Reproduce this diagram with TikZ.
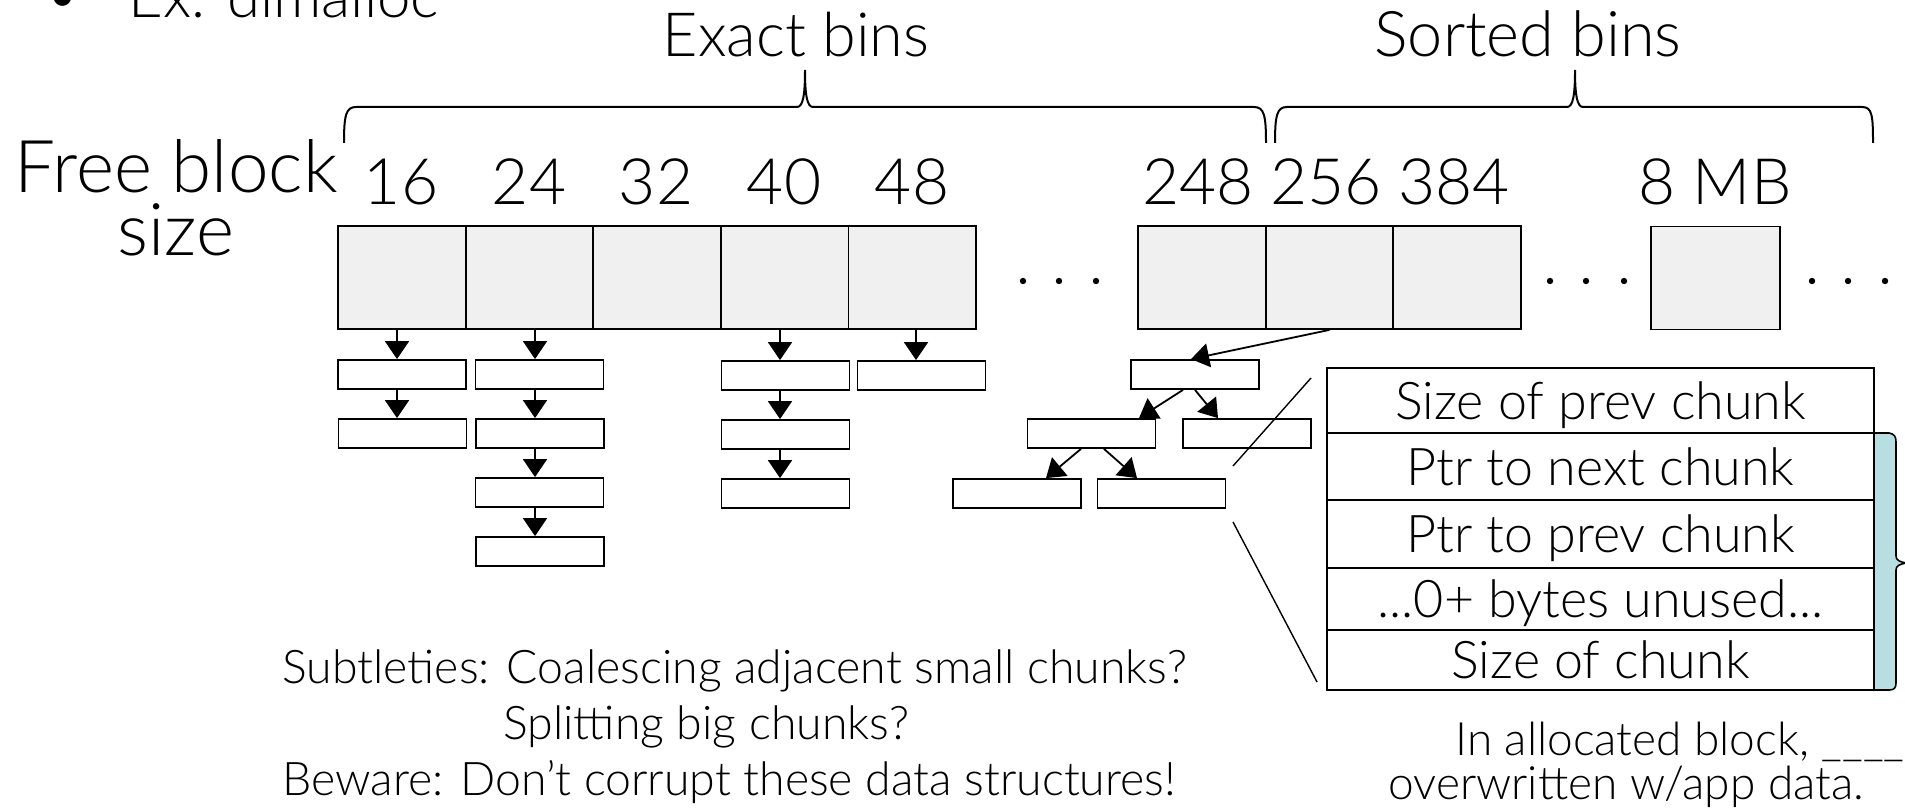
\documentclass[tikz,border=0pt]{standalone}
\usepackage{fontspec}
\setmainfont{Lato Light}
\usetikzlibrary{arrows.meta,calc}
\definecolor{binfill}{RGB}{240,240,240}
\definecolor{bracefill}{RGB}{185,222,225}
\begin{document}
\begin{tikzpicture}[x=0.5pt,y=-0.5pt,
  bin/.style={draw,fill=binfill,line width=0.9pt,minimum width=63.8pt,minimum height=51.5pt,inner sep=0pt},
  sub/.style={draw,fill=white,line width=0.9pt,minimum width=64pt,minimum height=14.5pt,inner sep=0pt},
  row/.style={draw,line width=0.9pt,minimum width=273.5pt,inner sep=0pt,text height=18.6pt,text depth=0pt,font=\fontsize{26}{26}\selectfont},
  arr/.style={line width=0.9pt,-{Triangle[length=9pt,width=12pt]}},
  bracepath/.style={line width=1pt},
  zoomline/.style={line width=0.7pt},
  num/.style={anchor=base,inner sep=0pt,font=\fontsize{32}{32}\selectfont},
  big/.style={anchor=base,inner sep=0pt,font=\fontsize{36.4}{36.4}\selectfont},
  head/.style={anchor=base,inner sep=0pt,font=\fontsize{30.5}{30.5}\selectfont},
  note/.style={anchor=base west,inner sep=0pt,font=\fontsize{23.2}{23.2}\selectfont},
  small/.style={anchor=base west,inner sep=0pt,font=\fontsize{23}{23}\selectfont},
  dot/.style={fill=black}
]
\path[use as bounding box] (0,0) rectangle (1905,812);
\clip (0,0) rectangle (1905,812);

% top line
\node[anchor=base,inner sep=0pt,font=\fontsize{30}{30}\selectfont] (bul) at (63,16) {•};
\node[anchor=base west,inner sep=0pt,font=\fontsize{30}{30}\selectfont] (ex) at (128,18) {Ex. dlmalloc};

% headings
\node[head] (exact) at (796,57) {Exact bins};
\node[head,font=\fontsize{31.5}{31.5}\selectfont] (sorted) at (1528,57) {Sorted bins};

% braces
\draw[bracepath] (344,143) .. controls (344,115) and (346,107) .. (356,107) -- (797,107)
  .. controls (803,107) and (805,95) .. (805,70) .. controls (805,95) and (807,107) .. (813,107)
  -- (1254,107) .. controls (1264,107) and (1266,115) .. (1266,143);
\draw[bracepath] (1275,143) .. controls (1275,115) and (1277,107) .. (1287,107) -- (1567,107)
  .. controls (1573,107) and (1575,95) .. (1575,70) .. controls (1575,95) and (1577,107) .. (1583,107)
  -- (1862,107) .. controls (1872,107) and (1873,115) .. (1873,143);

% free block size
\node[big] (fb) at (176,193) {Free block};
\node[big] (sz) at (176,256) {size};

% bins
\node[bin] (b16) at (401.8,277.5) {};
\node[bin] (b24) at (529.4,277.5) {};
\node[bin] (b32) at (657,277.5) {};
\node[bin] (b40) at (784.6,277.5) {};
\node[bin] (b48) at (912.2,277.5) {};
\node[bin] (b248) at (1202,277.5) {};
\node[bin] (b256) at (1329.5,277.5) {};
\node[bin] (b384) at (1457,277.5) {};
\node[bin,minimum width=64.5pt] (b8mb) at (1715.5,278) {};

% size labels
\node[num] (l16) at (401,205) {16};
\node[num] (l24) at (529,205) {24};
\node[num] (l32) at (656,205) {32};
\node[num] (l40) at (784,205) {40};
\node[num] (l48) at (912,205) {48};
\node[num] (l248) at (1198,205) {248};
\node[num] (l256) at (1326,205) {256};
\node[num] (l384) at (1454,205) {384};
\node[num] (l8mb) at (1715,205) {8 MB};

% dots
\fill[dot] (1023,281) circle (1.6pt) (1059,281) circle (1.6pt) (1096,281) circle (1.6pt);
\fill[dot] (1550,281) circle (1.6pt) (1586,281) circle (1.6pt) (1624,281) circle (1.6pt);
\fill[dot] (1812,281) circle (1.6pt) (1848,281) circle (1.6pt) (1885,281) circle (1.6pt);

% exact bin lists
\node[sub] (s16a) at (402,374.5) {};
\node[sub] (s16b) at (402.5,433.5) {};
\node[sub] (s24a) at (539.5,374.5) {};
\node[sub] (s24b) at (540,433.5) {};
\node[sub] (s24c) at (539.5,492.5) {};
\node[sub] (s24d) at (540,551.5) {};
\node[sub] (s40a) at (785.5,375.5) {};
\node[sub] (s40b) at (785.5,434.5) {};
\node[sub] (s40c) at (785.5,493.5) {};
\node[sub] (s48a) at (921.5,375.5) {};

\draw[arr] ([xshift=-2.4pt]b16.south) -- ([xshift=-2.5pt]s16a.north);
\draw[arr] ([xshift=-2.5pt]s16a.south) -- ([xshift=-2.75pt]s16b.north);
\draw[arr] ([xshift=2.8pt]b24.south) -- ([xshift=-2.25pt]s24a.north);
\draw[arr] ([xshift=-2.25pt]s24a.south) -- ([xshift=-2.5pt]s24b.north);
\draw[arr] ([xshift=-2.5pt]s24b.south) -- ([xshift=-2.25pt]s24c.north);
\draw[arr] ([xshift=-2.25pt]s24c.south) -- ([xshift=-2.5pt]s24d.north);
\draw[arr] ([xshift=-2.3pt]b40.south) -- ([xshift=-2.75pt]s40a.north);
\draw[arr] ([xshift=-2.75pt]s40a.south) -- ([xshift=-2.75pt]s40b.north);
\draw[arr] ([xshift=-2.75pt]s40b.south) -- ([xshift=-2.75pt]s40c.north);
\draw[arr] ([xshift=1.9pt]b48.south) -- ([xshift=-2.75pt]s48a.north);

% tree
\node[sub] (root) at (1195,374.5) {};
\node[sub] (tl) at (1091.5,433.5) {};
\node[sub] (tr) at (1247,433.5) {};
\node[sub] (tll) at (1017,493.5) {};
\node[sub] (tlr) at (1161.5,493.5) {};
\draw[arr] (b256.south) -- ([xshift=-2pt]root.north);
\draw[arr] ([xshift=-6pt]root.south) -- ([xshift=23.75pt]tl.north);
\draw[arr] (root.south) -- ([xshift=-14.5pt]tr.north);
\draw[arr] ([xshift=-5.25pt]tl.south) -- ([xshift=14.5pt]tll.north);
\draw[arr] ([xshift=6.25pt]tl.south) -- ([xshift=-12.25pt]tlr.north);

% zoom lines
\coordinate (z1) at (1311,378);
\coordinate (z2) at (1233,466);
\coordinate (z3) at (1233,522);
\coordinate (z4) at (1317,682);
\draw[zoomline] (z1) -- (z2);
\draw[zoomline] (z3) -- (z4);

% blue brace
\filldraw[fill=bracefill,line width=0.8pt] (1874,433) -- (1889,433)
  .. controls (1894,434) and (1896,436) .. (1896,442) -- (1896,556)
  .. controls (1896,560) and (1899,562) .. (1907,563)
  .. controls (1899,564) and (1896,566) .. (1896,570) -- (1896,683)
  .. controls (1896,688) and (1894,690) .. (1889,690) -- (1874,690);

% chunk table
\node[row,minimum height=32.5pt] (r1) at (1600.5,400.5) {Size of prev chunk};
\node[row,minimum height=33.5pt] (r2) at (1600.5,466.5) {Ptr to next chunk};
\node[row,minimum height=34pt] (r3) at (1600.5,534) {Ptr to prev chunk};
\node[row,minimum height=31pt] (r4) at (1600.5,599) {...0+ bytes unused...};
\node[row,minimum height=30pt] (r5) at (1600.5,660) {Size of chunk};

% notes
\node[note] (n1) at (282,683) {Subtleties: Coalescing adjacent small chunks?};
\node[note] (n2) at (503,739) {Splitting big chunks?};
\node[note] (n3) at (282,795) {Beware: Don’t corrupt these data structures!};
\node[small] (a1) at (1455,755) {In allocated block, \_\_\_\_\_\_};
\node[small] (a2) at (1388,799) {overwritten w/app data.};
\end{tikzpicture}
\end{document}
